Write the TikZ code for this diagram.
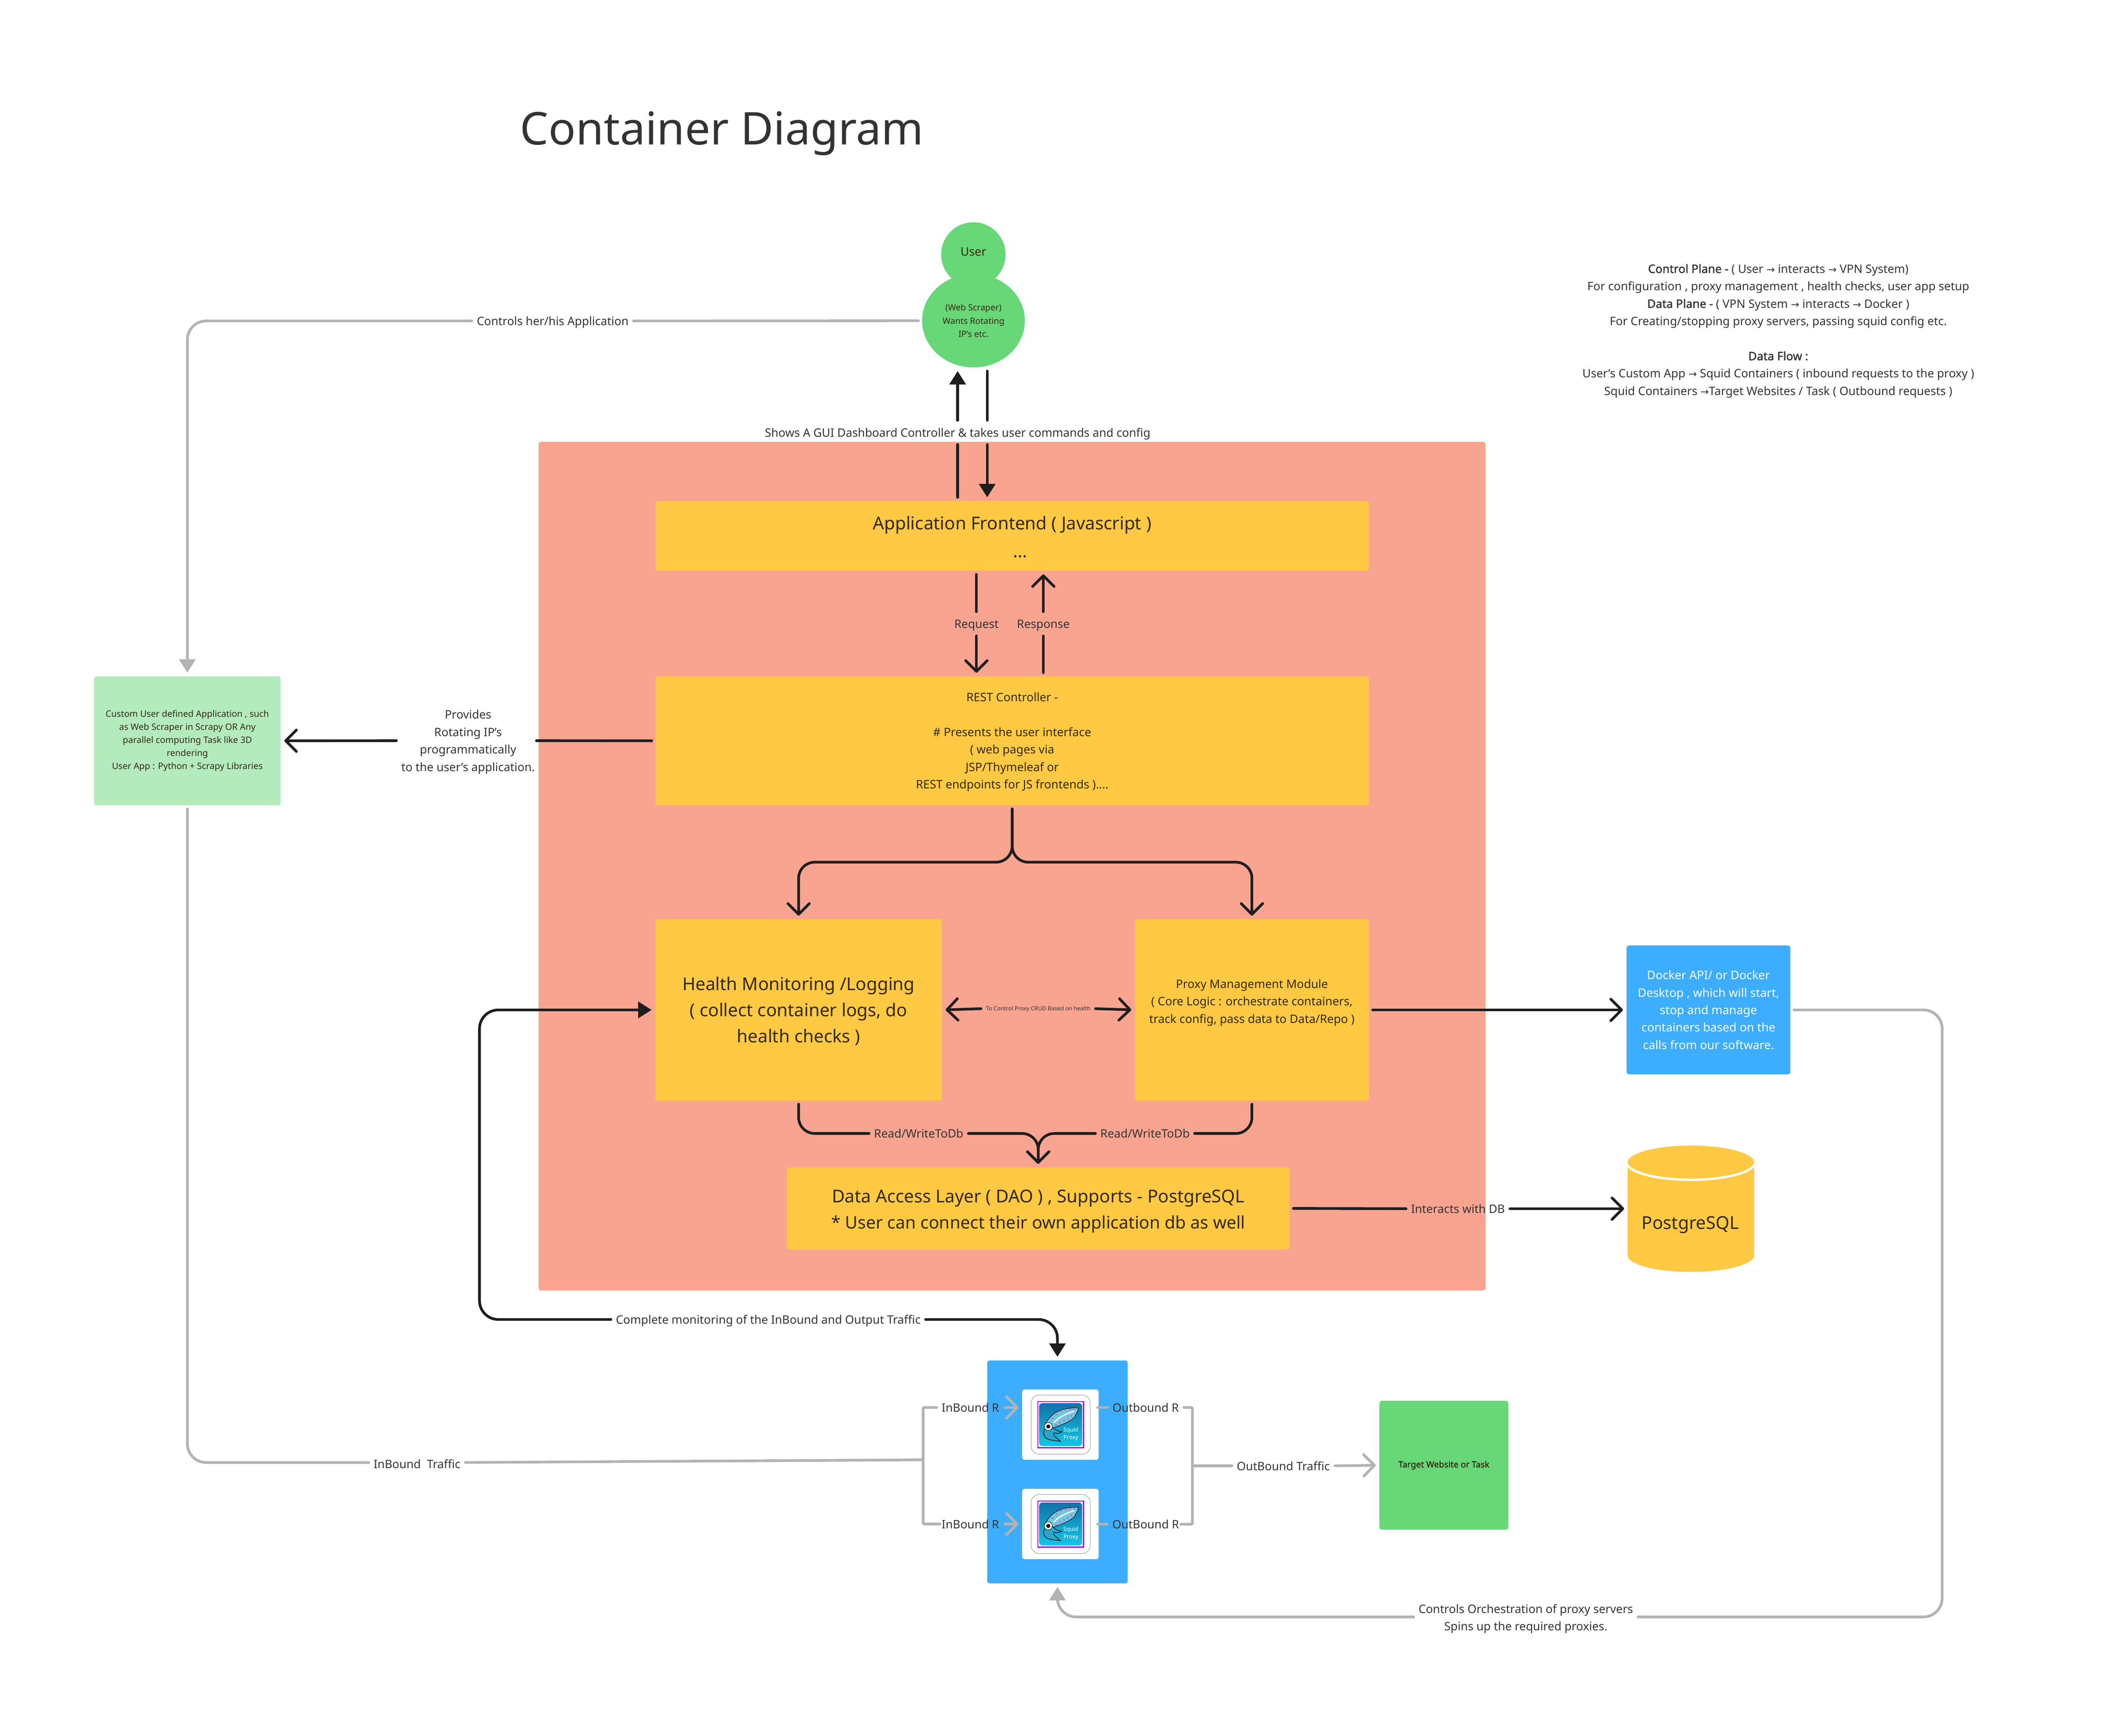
\documentclass[tikz,border=0pt]{standalone}
\usepackage{fontspec}
\setmainfont{Noto Sans}
\newfontfamily\arrowfont{DejaVu Sans}
\newfontfamily\heavyfont[FakeBold=1.6]{Noto Sans}
\usetikzlibrary{arrows.meta,shapes.geometric}

\definecolor{framered}{HTML}{F9A491}
\definecolor{boxorange}{HTML}{FFC943}
\definecolor{boxgreen}{HTML}{67D778}
\definecolor{palegreen}{HTML}{B3EBBD}
\definecolor{boxblue}{HTML}{3DADFF}
\definecolor{linegray}{HTML}{B3B3B3}
\definecolor{lineblack}{HTML}{1E1E1E}
\definecolor{textdark}{HTML}{333333}
\definecolor{textbrown}{HTML}{35290F}
\definecolor{icontop}{HTML}{1272A8}
\definecolor{iconbottom}{HTML}{12C6E6}
\definecolor{iconframe}{HTML}{A000F0}
\definecolor{squidbody}{HTML}{6FC7E0}
\definecolor{squidarm}{HTML}{2AA5CC}
\definecolor{squiddot}{HTML}{C070C8}

\newcommand{\fs}[2]{\fontsize{#1}{#2}\selectfont}
\newcommand{\toarrow}{{\arrowfont\fontsize{7.5}{13}\selectfont →}}
\newcommand{\topline}[1]{\rule{0pt}{#1}}

\tikzset{
  panel/.style={rectangle, rounded corners=2pt, inner sep=0pt, align=center, text=textbrown},
  orangebox/.style={panel, fill=boxorange},
  bigtext/.style={font=\fs{13.2}{19.5}},
  midtext/.style={font=\fs{8.7}{13}},
  lbltext/.style={inner sep=1pt, align=center, text=textdark, font=\fs{8.65}{13}},
  lbl/.style={lbltext, text height=8.6pt, text depth=2pt},
  blackconn/.style={draw=lineblack, line width=2pt, line cap=round, shorten <=2.5pt, shorten >=2.5pt},
  grayconn/.style={draw=linegray, line width=2pt, line cap=round, shorten <=2.5pt, shorten >=2.5pt},
  barbend/.style={-{Straight Barb[length=8pt,width=16pt,round]}},
  triend/.style={-{Triangle[length=10pt,width=12pt]}}
}

\begin{document}
\begin{tikzpicture}[x=1pt,y=-1pt]
    \useasboundingbox (0,0) rectangle (1568,1292.4);

    \node[anchor=west, text=textdark, font=\fs{33.6}{40}, inner sep=0pt] (title) at (387,99.5) {Container Diagram};

    % Notes on the right
    \node[lbltext] (notes) at (1324,246.5) {{\heavyfont Control Plane -} ( User \toarrow{} interacts \toarrow{} VPN System)\\
        For configuration , proxy management , health checks, user app setup\\
        {\heavyfont Data Plane -} ( VPN System \toarrow{} interacts \toarrow{} Docker )\\
        For Creating/stopping proxy servers, passing squid config etc.\\[13pt]
        {\heavyfont Data Flow :}\\
        User’s Custom App \toarrow{} Squid Containers ( inbound requests to the proxy )\\
        Squid Containers \toarrow{}Target Websites / Task ( Outbound requests )};

    % The user
    \node[ellipse, fill=boxgreen, minimum width=48pt, minimum height=48pt, inner sep=0pt] (userHead) at (724.7,189.5) {};
    \node[text=textbrown, font=\fs{8.8}{13}, inner sep=0pt] (userText) at (724.7,187.5) {User};
    \node[ellipse, fill=boxgreen, minimum width=76.5pt, minimum height=69.6pt, inner sep=0pt, align=center, font=\fs{6.4}{9.8}, text=textbrown] (userBody) at (724.8,238.8) {(Web Scraper)\\Wants Rotating\\IP's etc.};

    % The big frame and its boxes
    \node[panel, fill=framered, minimum width=705pt, minimum height=632pt] (frame) at (753.5,645) {};
    \node[orangebox, bigtext, minimum width=531.3pt, minimum height=52pt] (frontend) at (753.6,399) {\topline{11.5pt}Application Frontend ( Javascript )\\[1pt]\hspace*{12pt}...};
    \node[orangebox, midtext, minimum width=531.3pt, minimum height=96pt] (rest) at (753.6,551.6) {\topline{8.5pt}REST Controller -\\[13pt]\# Presents the user interface\\( web pages via\\JSP/Thymeleaf or\\REST endpoints for JS frontends )....};
    \node[orangebox, bigtext, minimum width=213.5pt, minimum height=135pt] (health) at (594.6,752) {\topline{12pt}Health Monitoring /Logging\\( collect container logs, do\\health checks )};
    \node[orangebox, midtext, minimum width=174.3pt, minimum height=135pt] (proxy) at (932.1,752) {Proxy Management Module\\( Core Logic : orchestrate containers,\\track config, pass data to Data/Repo )\\\mbox{}};
    \node[orangebox, bigtext, minimum width=374.5pt, minimum height=61pt] (dao) at (773,899.8) {\topline{14pt}Data Access Layer ( DAO ) , Supports - PostgreSQL\\{\fs{12.85}{19.5}* User can connect their own application db as well}};

    % Boxes outside the frame
    \node[panel, fill=palegreen, minimum width=139pt, minimum height=96pt, font=\fs{6.6}{9.7}] (app) at (139.5,551.6) {Custom User defined Application , such\\as Web Scraper in Scrapy OR Any\\parallel computing Task like 3D\\rendering\\User App : Python + Scrapy Libraries};
    \node[panel, fill=boxblue, text=white, minimum width=122pt, minimum height=96pt, font=\fs{8.8}{13}] (docker) at (1272,752) {Docker API/ or Docker\\Desktop , which will start,\\stop and manage\\containers based on the\\calls from our software.};
    \node[panel, fill=boxgreen, minimum width=96pt, minimum height=96pt, font=\heavyfont\fs{6.4}{9}] (target) at (1075,1091) {Target Website or Task};

    % PostgreSQL cylinder
    \fill[boxorange] (1211.8,865.3) -- (1211.8,934.7) arc[start angle=180, end angle=0, x radius=47.1, y radius=12.4] -- (1306,865.3) -- cycle;
    \filldraw[fill=boxorange, draw=white, line width=1.7pt] (1258.9,865.3) ellipse[x radius=47.9, y radius=13.2];
    \node[inner sep=0pt, minimum width=94pt, minimum height=94pt] (postgres) at (1258.9,900) {};
    \node[text=textbrown, font=\fs{13.2}{16}] (postgresText) at (1258.5,912) {PostgreSQL};

    % Blue squid box
    \node[panel, fill=boxblue, minimum width=104.6pt, minimum height=166pt] (squidbox) at (787.3,1096) {};
    \foreach \tile/\ty in {tileA/1060.8, tileB/1134.8} {
        \node[panel, fill=white, minimum width=57pt, minimum height=52.4pt] (\tile) at (789.5,\ty) {};
        \begin{scope}[shift={(789.7,\ty)}]
            \filldraw[fill=white, draw=linegray, line width=0.5pt, rounded corners=6pt] (-22,-22) rectangle (22,22);
            \shade[top color=icontop, bottom color=iconbottom, rounded corners=2.5pt] (-16,-16) rectangle (16,16);
            \draw[draw=iconframe, line width=0.7pt] (-17,-17.2) rectangle (17,17.2);
            % squid
            \draw[fill=squidbody, line width=0.35pt] (-11.5,0) .. controls (-9,-6) and (-3,-11) .. (5,-12) .. controls (8,-12.5) and (10,-12.5) .. (13,-12.5) .. controls (13,-9) and (11,-8) .. (10.5,-5.8) .. controls (7,-2) and (1,0) .. (-5.7,2.5) -- cycle;
            \draw[white, line width=0.9pt, line cap=round] (-5,-1.5) .. controls (-1,-6) and (4,-8) .. (10,-10);
            \foreach \dx/\dy in {-6/-4.5, -3/-7.5, 0/-9.8, 3.5/-11, 7/-11.5, 10/-11.5, -3.5/0.3, -0.5/-1.5, 2.5/-3, 5.5/-4.5, 8/-6.5}
                \fill[squiddot] (\dx,\dy) circle (0.75pt);
            \draw[fill=squidarm, line width=0.4pt] (-11.5,3) .. controls (-14,7) and (-12,10) .. (-9,11) .. controls (-6,12) and (-2,12) .. (0,12.5) .. controls (-4,9) and (-6,8) .. (-5,6) .. controls (-3,7) and (-1,6.5) .. (1,5.3) .. controls (-2,5) and (-4,4) .. (-6,2) -- cycle;
            \filldraw[fill=white, draw=black, line width=0.3pt] (-9.2,1.4) circle (3pt);
            \fill[black] (-9.2,1.4) circle (1.5pt);
            \node[text=white, align=center, inner sep=0pt, font=\fs{4.2}{5.4}] (\tile text) at (7.6,7) {Squid\\Proxy};
        \end{scope}
    }

    % Connector labels
    \node[lbl] (lblCtl) at (411.5,239) {Controls her/his Application};
    \node[lbl] (lblGui) at (713,322) {Shows A GUI Dashboard Controller \& takes user commands and config};
    \node[lbl] (lblReq) at (727,464.5) {Request};
    \node[lbl] (lblResp) at (776.8,464.5) {Response};
    \node[lbltext] (lblProv) at (348.5,551.5) {\topline{8.5pt}Provides\\Rotating IP’s\\programmatically\\to the user’s application.};
    \node[lbl, font=\fs{4.2}{6}, text height=3.9pt, text depth=1pt] (lblCrud) at (773,751) {To Control Proxy CRUD Based on health};
    \node[lbl] (lblReadL) at (684,844) {Read/WriteToDb};
    \node[lbl] (lblReadR) at (852.5,844) {Read/WriteToDb};
    \node[lbl] (lblDb) at (1085.5,900) {Interacts with DB};
    \node[lbl] (lblMon) at (572,982.5) {Complete monitoring of the InBound and Output Traffic};
    \node[lbl] (lblTraffic) at (310.5,1090) {InBound \ Traffic};
    \node[lbl] (lblInA) at (722.5,1048) {InBound R};
    \node[lbl] (lblInB) at (722.5,1134.8) {InBound R};
    \node[lbl] (lblOutA) at (853,1048) {Outbound R};
    \node[lbl] (lblOutB) at (853,1135) {OutBound R};
    \node[lbl] (lblOutT) at (955.5,1091.5) {OutBound Traffic};
    \node[lbltext] (lblOrch) at (1136,1204.5) {\topline{8.5pt}Controls Orchestration of proxy servers\\Spins up the required proxies.};

    % User and frontend
    \coordinate (upLine) at (713,0);
    \coordinate (downLine) at (735,0);
    \draw[blackconn] (upLine |- frontend.north) -- (upLine |- lblGui.south);
    \draw[blackconn, triend] (upLine |- lblGui.north) -- (upLine |- userBody.south);
    \draw[blackconn] (downLine |- userBody.south) -- (downLine |- lblGui.north);
    \draw[blackconn, triend] (downLine |- lblGui.south) -- (downLine |- frontend.north);

    % Frontend and REST
    \draw[blackconn] (lblReq |- frontend.south) -- (lblReq.north);
    \draw[blackconn, barbend] (lblReq.south) -- (lblReq |- rest.north);
    \draw[blackconn] (lblResp |- rest.north) -- (lblResp.south);
    \draw[blackconn, barbend] (lblResp.north) -- (lblResp |- frontend.south);

    % REST and the user app
    \draw[blackconn, shorten >=0pt] (rest.west) -- (lblProv.east);
    \draw[blackconn, barbend] (lblProv.west) -- (app.east);

    % REST splits in two
    \coordinate (forkBar) at (0,642);
    \draw[blackconn, barbend, rounded corners=12pt] (rest.south) -- (rest.south |- forkBar) -- (health.north |- forkBar) -- (health.north);
    \draw[blackconn, barbend, rounded corners=12pt] (rest.south) -- (rest.south |- forkBar) -- (proxy.north |- forkBar) -- (proxy.north);

    % Health and proxy
    \draw[blackconn, barbend] (lblCrud.west) -- (health.east);
    \draw[blackconn, barbend] (lblCrud.east) -- (proxy.west);

    % Both go to the data layer
    \draw[blackconn, rounded corners=12pt] (health.south) |- (lblReadL.west);
    \draw[blackconn, rounded corners=12pt] (proxy.south) |- (lblReadR.east);
    \draw[blackconn, barbend, rounded corners=12pt] (lblReadL.east) -| (dao.north);
    \draw[blackconn, barbend, rounded corners=12pt] (lblReadR.west) -| (dao.north);

    % To docker and the database
    \draw[blackconn, barbend] (proxy.east) -- (docker.west);
    \draw[blackconn] (dao.east) -- (lblDb.west);
    \draw[blackconn, barbend] (lblDb.east) -- (lblDb -| postgres.west);

    % Monitoring loop
    \coordinate (monBend) at (357,867);
    \draw[blackconn, triend, rounded corners=14pt] (lblMon.west) -| (monBend) |- (health.west);
    \draw[blackconn, triend, rounded corners=14pt] (lblMon.east) -| (squidbox.north);

    % Gray connectors
    \coordinate (trafficBend) at (139.5,1089);
    \coordinate (inBar) at (687.3,1087);
    \coordinate (outBar) at (887.8,1091.5);
    \coordinate (orchBend) at (1446,1204);
    \draw[grayconn, triend, rounded corners=14pt] (lblCtl.west) -| (app.north);
    \draw[grayconn] (userBody.west) -- (lblCtl.east);
    \draw[grayconn, rounded corners=14pt] (app.south) -- (trafficBend) -- (lblTraffic.west |- trafficBend);
    \draw[grayconn, shorten >=0pt] (lblTraffic.east |- trafficBend) -- (inBar);
    \draw[grayconn, shorten >=0pt, rounded corners=1pt] (lblInA.west) -| (inBar) |- (lblInB.west);
    \draw[grayconn, barbend, shorten <=0pt] (lblInA.east) ++(3,0) -- (lblInA -| tileA.west);
    \draw[grayconn, barbend, shorten <=0pt] (lblInB.east) ++(3,0) -- (lblInB -| tileB.west);
    \draw[grayconn, shorten <=-1pt] (lblOutA -| tileA.east) -- (lblOutA.west);
    \draw[grayconn, shorten <=-1pt] (lblOutB -| tileB.east) -- (lblOutB.west);
    \draw[grayconn, shorten >=0pt, rounded corners=1pt] (lblOutA.east) -| (outBar) |- (lblOutB.east);
    \draw[grayconn, shorten <=0pt] (outBar) -- (lblOutT.west);
    \draw[grayconn, barbend] (lblOutT.east) -- (target.west);
    \draw[grayconn, rounded corners=14pt] (docker.east) -| (orchBend) -- (lblOrch.east |- orchBend);
    \draw[grayconn, triend, rounded corners=14pt] (lblOrch.west |- orchBend) -| (squidbox.south);
\end{tikzpicture}
\end{document}
